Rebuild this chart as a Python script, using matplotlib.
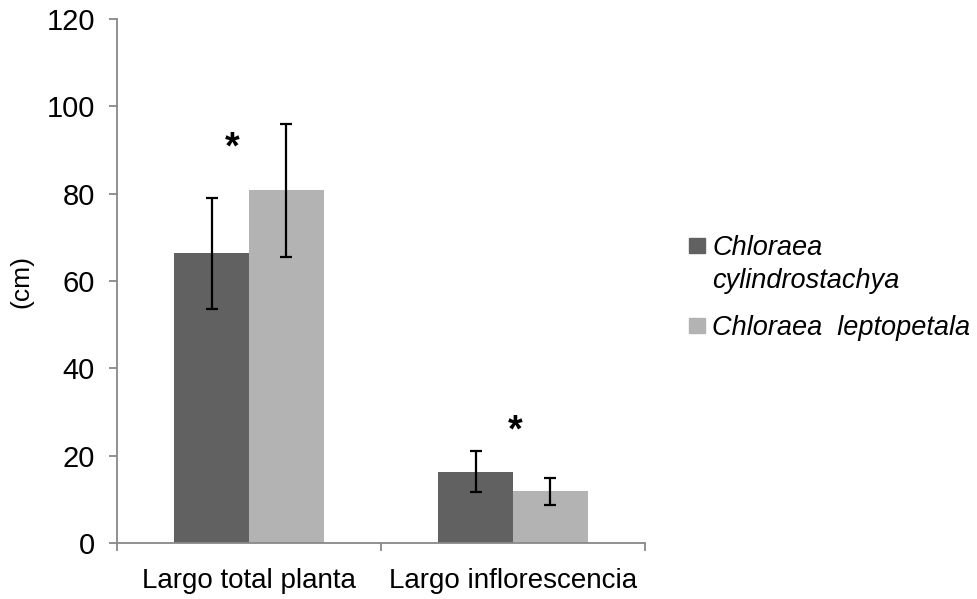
import numpy as np
import matplotlib.pyplot as plt
from matplotlib.patches import Rectangle

plt.rcParams['font.family'] = ['Liberation Sans', 'DejaVu Sans']

categories = ['Largo total planta', 'Largo inflorescencia']
species = [['Chloraea', 'cylindrostachya'], ['Chloraea  leptopetala']]
means_cyl = [66.4, 16.3]
err_cyl = [12.7, 4.7]
means_lep = [80.8, 11.8]
err_lep = [15.2, 3.0]
star_y = [90.4, 25.5]
star_x = [-0.062, 1.01]

dark = '#616161'
light = '#b3b3b3'
axis_col = '#888888'

W, H = 977, 599
fig = plt.figure(figsize=(W / 100, H / 100), dpi=100)
ax = fig.add_axes([117 / W, 1 - 543 / H, 528 / W, 524 / H])

x = np.arange(len(categories))
w = 0.284
ax.bar(x - w / 2, means_cyl, w, color=dark, yerr=err_cyl, capsize=4.5,
       error_kw=dict(elinewidth=1.6, capthick=1.6, ecolor='black'))
ax.bar(x + w / 2, means_lep, w, color=light, yerr=err_lep, capsize=4.5,
       error_kw=dict(elinewidth=1.6, capthick=1.6, ecolor='black'))

for sx, sy in zip(star_x, star_y):
    ax.text(sx, sy, '*', ha='center', va='center', fontsize=27, fontweight='bold')

ax.set_xlim(-0.5, 1.5)
ax.set_ylim(0, 120)
ax.set_yticks(np.arange(0, 121, 20))
ax.tick_params(axis='y', direction='out', length=6, width=1.3, color=axis_col,
               labelsize=21, pad=10)
ax.set_xticks(x)
ax.set_xticklabels(categories)
ax.set_xticks([-0.5, 0.5, 1.5], minor=True)
ax.tick_params(axis='x', which='major', length=0, labelsize=20, pad=18)
ax.tick_params(axis='x', which='minor', direction='out', length=6, width=1.3,
               color=axis_col)

for s in ['top', 'right']:
    ax.spines[s].set_visible(False)
for s in ['left', 'bottom']:
    ax.spines[s].set_color(axis_col)
    ax.spines[s].set_linewidth(1.3)

ax.set_ylabel('(cm)', fontsize=19, labelpad=9)

# legend drawn by hand so the swatch sits next to the first line of text
swatch_top = [238, 318]
baselines = [[255, 288], [335]]
for col, top, lines, bls in zip([dark, light], swatch_top, species, baselines):
    fig.patches.append(Rectangle((689 / W, 1 - (top + 15) / H), 16 / W, 15 / H,
                                 transform=fig.transFigure, color=col))
    for line, bl in zip(lines, bls):
        fig.text(712 / W, 1 - bl / H, line, fontsize=19.5, style='italic',
                 va='baseline', ha='left')

fig.savefig('out.png', dpi=100)
